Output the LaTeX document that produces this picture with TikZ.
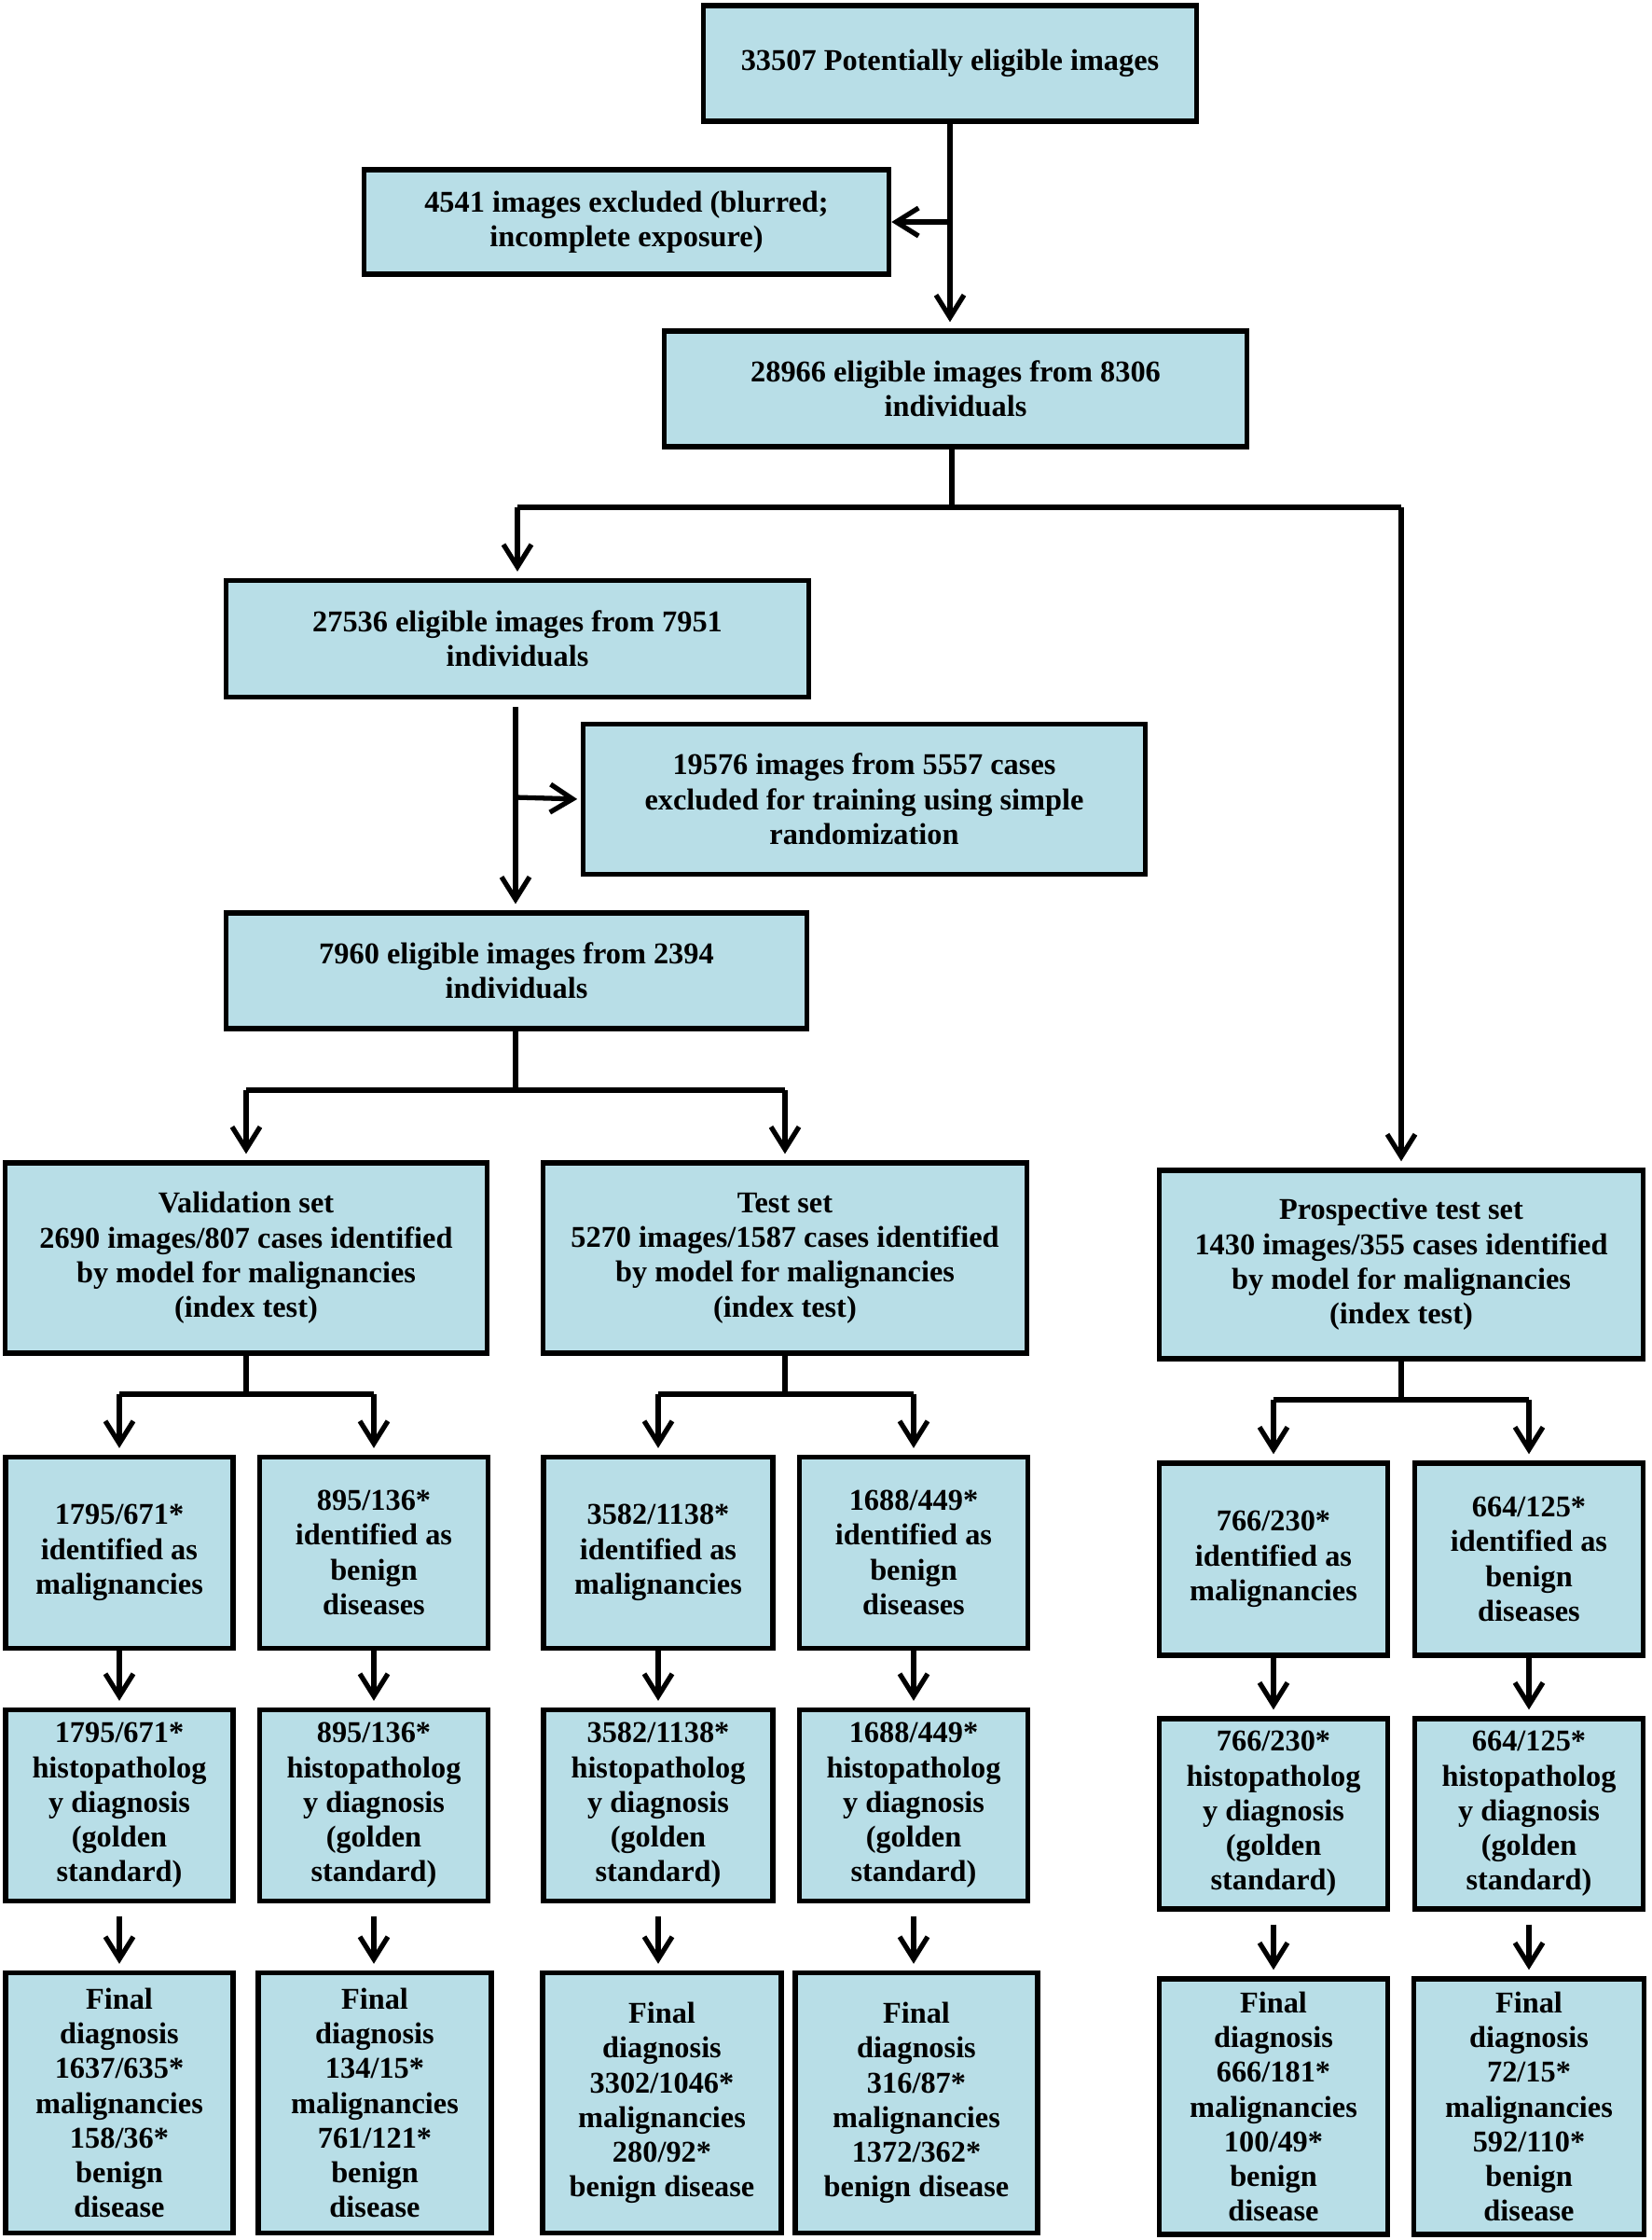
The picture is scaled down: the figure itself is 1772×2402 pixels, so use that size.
\documentclass[tikz,border=0pt]{standalone}
\usepackage{fontspec}
\setmainfont{Liberation Serif}
\usetikzlibrary{arrows.meta}
\definecolor{boxblue}{RGB}{184,222,231}
\begin{document}
\begin{tikzpicture}[x=0.01cm,y=-0.01cm,
  box/.style={draw=black, line width=1.5pt, fill=boxblue, inner sep=0pt, align=center,
    font=\fontsize{9.2}{10.6}\selectfont\bfseries},
  arr/.style={draw=black, line width=1.5pt, -{Straight Barb[length=0.24cm,width=0.30cm,line width=1.5pt]}, shorten >=0.07cm},
  ln/.style={draw=black, line width=1.5pt}
]
\useasboundingbox[fill=white] (0,0) rectangle (1772,2402);

% top part
\node[box, minimum width=5.28cm, minimum height=1.24cm] (B1) at (1019,68) {33507 Potentially eligible images};
\node[box, minimum width=5.63cm, minimum height=1.12cm] (B2) at (672,238) {4541 images excluded (blurred;\\ incomplete exposure)};
\node[box, minimum width=6.24cm, minimum height=1.24cm] (B3) at (1025,417) {28966 eligible images from 8306\\ individuals};
\node[box, minimum width=6.24cm, minimum height=1.25cm] (B4) at (555,685) {27536 eligible images from 7951\\ individuals};
\node[box, minimum width=6.02cm, minimum height=1.61cm] (B5) at (927,857) {19576 images from 5557 cases\\ excluded for training using simple\\ randomization};
\node[box, minimum width=6.22cm, minimum height=1.24cm] (B6) at (554,1041) {7960 eligible images from 2394\\ individuals};

% sets
\node[box, minimum width=5.16cm, minimum height=2.04cm] (VA) at (264,1349) {Validation set\\ 2690 images/807 cases identified\\ by model for malignancies\\ (index test)};
\node[box, minimum width=5.18cm, minimum height=2.04cm] (TE) at (842,1349) {Test set\\ 5270 images/1587 cases identified\\ by model for malignancies\\ (index test)};
\node[box, minimum width=5.19cm, minimum height=2.02cm] (PR) at (1503,1356) {Prospective test set\\ 1430 images/355 cases identified\\ by model for malignancies\\ (index test)};

% row 1
\node[box, minimum width=2.44cm, minimum height=2.05cm] (V1) at (128,1665) {1795/671*\\ identified as\\ malignancies};
\node[box, minimum width=2.45cm, minimum height=2.05cm] (V2) at (401,1665) {895/136*\\ identified as\\ benign\\ diseases};
\node[box, minimum width=2.46cm, minimum height=2.05cm] (T1) at (706,1665) {3582/1138*\\ identified as\\ malignancies};
\node[box, minimum width=2.45cm, minimum height=2.05cm] (T2) at (980,1665) {1688/449*\\ identified as\\ benign\\ diseases};
\node[box, minimum width=2.45cm, minimum height=2.06cm] (P1) at (1366,1672) {766/230*\\ identified as\\ malignancies};
\node[box, minimum width=2.45cm, minimum height=2.06cm] (P2) at (1640,1672) {664/125*\\ identified as\\ benign\\ diseases};

% row 2
\node[box, minimum width=2.44cm, minimum height=2.05cm] (V1h) at (128,1936) {1795/671*\\ histopatholog\\ y diagnosis\\ (golden\\ standard)};
\node[box, minimum width=2.45cm, minimum height=2.05cm] (V2h) at (401,1936) {895/136*\\ histopatholog\\ y diagnosis\\ (golden\\ standard)};
\node[box, minimum width=2.46cm, minimum height=2.05cm] (T1h) at (706,1936) {3582/1138*\\ histopatholog\\ y diagnosis\\ (golden\\ standard)};
\node[box, minimum width=2.45cm, minimum height=2.05cm] (T2h) at (980,1936) {1688/449*\\ histopatholog\\ y diagnosis\\ (golden\\ standard)};
\node[box, minimum width=2.45cm, minimum height=2.04cm] (P1h) at (1366,1945) {766/230*\\ histopatholog\\ y diagnosis\\ (golden\\ standard)};
\node[box, minimum width=2.45cm, minimum height=2.04cm] (P2h) at (1640,1945) {664/125*\\ histopatholog\\ y diagnosis\\ (golden\\ standard)};

% row 3
\node[box, minimum width=2.44cm, minimum height=2.79cm] (V1f) at (128,2255) {Final\\ diagnosis\\ 1637/635*\\ malignancies\\ 158/36*\\ benign\\ disease};
\node[box, minimum width=2.50cm, minimum height=2.79cm] (V2f) at (402,2255) {Final\\ diagnosis\\ 134/15*\\ malignancies\\ 761/121*\\ benign\\ disease};
\node[box, minimum width=2.56cm, minimum height=2.79cm] (T1f) at (710,2255) {Final\\ diagnosis\\ 3302/1046*\\ malignancies\\ 280/92*\\ benign disease};
\node[box, minimum width=2.60cm, minimum height=2.79cm] (T2f) at (983,2255) {Final\\ diagnosis\\ 316/87*\\ malignancies\\ 1372/362*\\ benign disease};
\node[box, minimum width=2.45cm, minimum height=2.74cm] (P1f) at (1366,2259) {Final\\ diagnosis\\ 666/181*\\ malignancies\\ 100/49*\\ benign\\ disease};
\node[box, minimum width=2.47cm, minimum height=2.74cm] (P2f) at (1640,2259) {Final\\ diagnosis\\ 72/15*\\ malignancies\\ 592/110*\\ benign\\ disease};

% junction coordinates
\coordinate (J1) at (1021,544);
\coordinate (J2) at (553,855);
\coordinate (J3) at (553,1169);
\coordinate (JV) at (264,1495);
\coordinate (JT) at (842,1495);
\coordinate (JP) at (1503,1501);

% connectors top
\draw[arr] (B1.south) -- (B1.south |- B3.north);
\draw[arr, shorten >=0pt] (B1.south |- B2.east) -- (B2.east);
\draw[ln] (B3.south -| J1) -- (J1);
\draw[ln] (J1 -| B4.north) -- (J1 -| PR.north);
\draw[arr] (J1 -| B4.north) -- (B4.north);
\draw[arr] (J1 -| PR.north) -- (PR.north);
\draw[arr] ([yshift=-0.08cm]B4.south -| J2) -- (B6.north -| J2);
\draw[arr, shorten >=0.04cm] (J2) -- (B5.west);
\draw[ln] (B6.south -| J3) -- (J3);
\draw[ln] (J3 -| VA.north) -- (J3 -| TE.north);
\draw[arr] (J3 -| VA.north) -- (VA.north);
\draw[arr] (J3 -| TE.north) -- (TE.north);

% set branches
\draw[ln] (VA.south) -- (JV);
\draw[ln] (JV -| V1.north) -- (JV -| V2.north);
\draw[arr] (JV -| V1.north) -- (V1.north);
\draw[arr] (JV -| V2.north) -- (V2.north);
\draw[ln] (TE.south) -- (JT);
\draw[ln] (JT -| T1.north) -- (JT -| T2.north);
\draw[arr] (JT -| T1.north) -- (T1.north);
\draw[arr] (JT -| T2.north) -- (T2.north);
\draw[ln] (PR.south) -- (JP);
\draw[ln] (JP -| P1.north) -- (JP -| P2.north);
\draw[arr] (JP -| P1.north) -- (P1.north);
\draw[arr] (JP -| P2.north) -- (P2.north);

% vertical chains
\foreach \a/\b/\c in {V1/V1h/V1f, V2/V2h/V2f, T1/T1h/T1f, T2/T2h/T2f, P1/P1h/P1f, P2/P2h/P2f}{
  \draw[arr] (\a.south) -- (\b.north);
  \draw[arr] ([yshift=-0.14cm]\b.south) -- (\b.south |- \c.north);
}
\end{tikzpicture}
\end{document}
